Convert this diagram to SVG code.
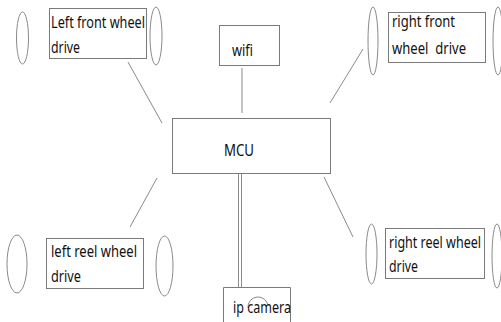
<svg xmlns="http://www.w3.org/2000/svg" width="501" height="322" viewBox="0 0 501 322">
<style>
.box{fill:#fff;stroke:#7a7a7a;stroke-width:1}
.wh{fill:none;stroke:#8a8a8a;stroke-width:1}
.ln{stroke:#8a8a8a;stroke-width:1;fill:none}
text{font-family:"Noto Sans","Liberation Sans",sans-serif;font-size:16.5px;fill:#111;white-space:pre}
</style>
<rect width="501" height="322" fill="#fff"/>
<g id="connectors">
<line class="ln" x1="128" y1="62" x2="162" y2="123"/>
<line class="ln" x1="363" y1="49" x2="330" y2="103"/>
<line class="ln" x1="242" y1="68" x2="242" y2="113"/>
<line class="ln" x1="157" y1="178" x2="130" y2="227"/>
<line class="ln" x1="324" y1="177" x2="353" y2="237"/>
<line class="ln" x1="238.5" y1="173" x2="238.5" y2="287"/>
<line class="ln" x1="241.5" y1="173" x2="241.5" y2="287"/>
</g>
<g id="left-front">
<ellipse class="wh" cx="22.5" cy="38" rx="6" ry="26"/>
<ellipse class="wh" cx="156" cy="36" rx="6" ry="29"/>
<rect class="box" x="49.5" y="8.5" width="97" height="50"/>
<text x="51" y="28" textLength="94" lengthAdjust="spacingAndGlyphs">Left front wheel</text>
<text x="51" y="53" textLength="29" lengthAdjust="spacingAndGlyphs">drive</text>
</g>
<g id="right-front">
<ellipse class="wh" cx="373" cy="41" rx="5" ry="34"/>
<ellipse class="wh" cx="498" cy="41" rx="5" ry="34"/>
<rect class="box" x="388.5" y="12.5" width="97" height="50"/>
<text x="392" y="27" textLength="63" lengthAdjust="spacingAndGlyphs">right front</text>
<text x="392" y="54" textLength="74" lengthAdjust="spacingAndGlyphs">wheel  drive</text>
</g>
<g id="wifi">
<rect class="box" x="219.5" y="25.5" width="60" height="40"/>
<text x="232" y="56" textLength="21" lengthAdjust="spacingAndGlyphs">wifi</text>
</g>
<g id="mcu">
<rect class="box" x="172.5" y="118.5" width="158" height="55"/>
<text x="224" y="156" textLength="30" lengthAdjust="spacingAndGlyphs">MCU</text>
</g>
<g id="left-reel">
<ellipse class="wh" cx="17" cy="264" rx="10" ry="29"/>
<ellipse class="wh" cx="164.5" cy="266" rx="8.5" ry="30"/>
<rect class="box" x="46.5" y="238.5" width="97" height="50"/>
<text x="51" y="257" textLength="86" lengthAdjust="spacingAndGlyphs">left reel wheel</text>
<text x="51" y="282" textLength="30" lengthAdjust="spacingAndGlyphs">drive</text>
</g>
<g id="right-reel">
<ellipse class="wh" cx="371.5" cy="254" rx="5.5" ry="30"/>
<ellipse class="wh" cx="497" cy="256" rx="5" ry="32"/>
<rect class="box" x="385.5" y="228.5" width="99" height="50"/>
<text x="389" y="248" textLength="92" lengthAdjust="spacingAndGlyphs" style="font-size:16px">right reel wheel</text>
<text x="389" y="272" textLength="29" lengthAdjust="spacingAndGlyphs">drive</text>
</g>
<g id="ip-camera">
<path class="box" d="M223.5 322 V287.5 H290.5 V322" fill="none"/>
<path class="ln" d="M248 308 A10 10 0 0 1 268 306"/>
<text x="233" y="313" textLength="58" lengthAdjust="spacingAndGlyphs">ip camera</text>
</g>
</svg>
